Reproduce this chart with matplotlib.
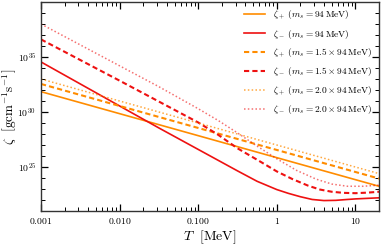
import numpy as np
import matplotlib
matplotlib.use("Agg")
import matplotlib.pyplot as plt
from matplotlib.ticker import FixedLocator, NullFormatter

plt.rcParams['mathtext.fontset'] = 'cm'
plt.rcParams['font.family'] = ['DejaVu Serif']

# log10(T / MeV)
logT_plus = [-3.0, -2.0, -1.0, 0.0, 1.0, 1.301]
zp_94 = [31.85, 29.85, 27.85, 25.85, 23.85, 23.25]
zp_141 = [32.55, 30.55, 28.55, 26.55, 24.55, 23.95]
zp_188 = [33.0, 31.0, 29.0, 27.0, 25.0, 24.4]

logT_minus_94 = [-3.0, -2.0, -1.5, -1.0, -0.5, -0.25, 0.0, 0.15, 0.3, 0.45, 0.6, 0.75, 0.9, 1.0, 1.15, 1.301]
zm_94 = [34.55, 30.55, 28.55, 26.6, 24.65, 23.7, 22.95, 22.6, 22.3, 22.05, 21.95, 21.97, 22.05, 22.1, 22.15, 22.2]

logT_minus_141 = [-3.0, -2.0, -1.5, -1.0, -0.75, -0.5, -0.2, 0.0, 0.2, 0.4, 0.55, 0.7, 0.85, 1.0, 1.15, 1.301]
zm_141 = [36.6, 32.85, 30.95, 29.05, 27.95, 26.7, 25.45, 24.6, 23.9, 23.3, 22.95, 22.75, 22.65, 22.62, 22.67, 22.75]

logT_minus_188 = [-3.0, -2.5, -2.0, -1.5, -1.0, -0.75, -0.5, -0.25, 0.0, 0.25, 0.5, 0.7, 0.9, 1.1, 1.301]
zm_188 = [38.0, 36.1, 34.2, 32.3, 30.3, 29.25, 28.1, 26.9, 25.75, 24.7, 23.9, 23.45, 23.25, 23.25, 23.35]

labels = [r'$\zeta_+\ (m_s = 94\,\mathrm{MeV})$',
          r'$\zeta_-\ (m_s = 94\,\mathrm{MeV})$',
          r'$\zeta_+\ (m_s = 1.5\times 94\,\mathrm{MeV})$',
          r'$\zeta_-\ (m_s = 1.5\times 94\,\mathrm{MeV})$',
          r'$\zeta_+\ (m_s = 2.0\times 94\,\mathrm{MeV})$',
          r'$\zeta_-\ (m_s = 2.0\times 94\,\mathrm{MeV})$']

xticks = [0.001, 0.01, 0.1, 1, 10]
xticklabels = ['0.001', '0.010', '0.100', '1', '10']

orange = '#ff8c00'
red = '#ee1111'

fig = plt.figure(figsize=(3.81, 2.47), dpi=100)
ax = fig.add_axes([0.1076, 0.1457, 0.8872, 0.8462])

def p(lt, lz):
    return 10.0 ** np.array(lt), 10.0 ** np.array(lz)

ax.plot(*p(logT_plus, zp_94), color=orange, lw=1.2, ls='-', label=labels[0])
ax.plot(*p(logT_minus_94, zm_94), color=red, lw=1.2, ls='-', label=labels[1])
ax.plot(*p(logT_plus, zp_141), color=orange, lw=1.5, ls=(0, (2.5, 1.5)), label=labels[2])
ax.plot(*p(logT_minus_141, zm_141), color=red, lw=1.5, ls=(0, (2.5, 1.5)), label=labels[3])
ax.plot(*p(logT_plus, zp_188), color=orange, lw=1.1, ls=(0, (1, 1.5)), alpha=0.75, label=labels[4])
ax.plot(*p(logT_minus_188, zm_188), color=red, lw=1.1, ls=(0, (1, 1.5)), alpha=0.6, label=labels[5])

ax.set_xscale('log')
ax.set_yscale('log')
ax.set_xlim(0.001, 20)
ax.set_ylim(1e21, 1e40)

ax.set_xticks(xticks)
ax.set_xticklabels([r'$\mathrm{%s}$' % t for t in xticklabels])
ax.set_yticks([1e25, 1e30, 1e35])
ax.set_yticklabels([r'$10^{25}$', r'$10^{30}$', r'$10^{35}$'])
ax.yaxis.set_minor_locator(FixedLocator([10.0 ** k for k in range(21, 41)]))
ax.yaxis.set_minor_formatter(NullFormatter())

ax.tick_params(which='both', direction='in', top=True, right=True, labelsize=7)
ax.tick_params(which='major', length=5, width=0.9)
ax.tick_params(which='minor', length=3, width=0.7)
for s in ax.spines.values():
    s.set_linewidth(1.0)
    s.set_color('#333333')

ax.set_xlabel(r'$T\ \ [\mathrm{MeV}]$', fontsize=10, labelpad=2)
ax.set_ylabel(r'$\zeta\ \ \left[\mathrm{gcm}^{-1}\mathrm{s}^{-1}\right]$', fontsize=9.5)
ax.yaxis.set_label_coords(-0.066, 0.5)

leg = ax.legend(loc='upper right', frameon=False, fontsize=6.8, handlelength=2.3,
                labelspacing=0.62, borderaxespad=0.3, handletextpad=0.8)

fig.savefig('out.png', dpi=100)
